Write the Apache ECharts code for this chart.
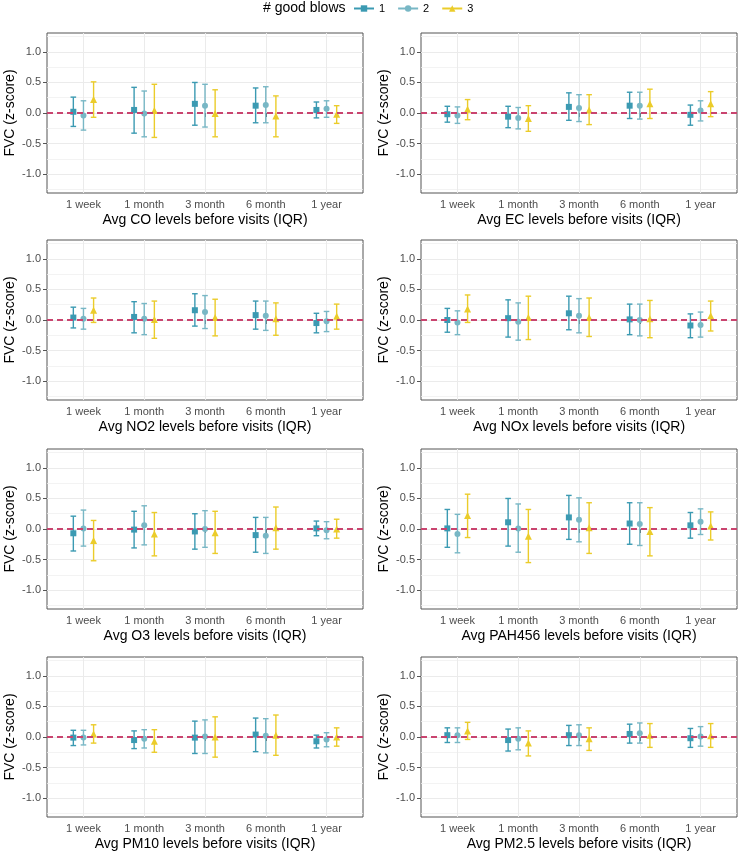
<!DOCTYPE html>
<html>
<head>
<meta charset="UTF-8">
<title>FVC by good blows</title>
<script src="https://cdn.jsdelivr.net/npm/echarts@6/dist/echarts.min.js"></script>
<style>
body { margin: 0; background: #fff; }
#main { width: 740px; height: 853px; }
</style>
</head>
<body>
<div id="main"></div>
<script>
var windows = ['1 week', '1 month', '3 month', '6 month', '1 year'];
var blows = ['1', '2', '3'];
var pollutants = ['CO', 'EC', 'NO2', 'NOx', 'O3', 'PAH456', 'PM10', 'PM2.5'];
var yTicks = [-1, -0.5, 0, 0.5, 1];
var yMinor = [-1.25, -0.75, -0.25, 0.25, 0.75, 1.25];
var dodge = [-1 / 6, 0, 1 / 6];

// [estimate, lower, upper] for each window; one row per number of good blows
var CO = [
  [[0.02, -0.22, 0.26], [0.05, -0.33, 0.42], [0.15, -0.20, 0.50], [0.12, -0.16, 0.41], [0.05, -0.08, 0.18]],
  [[-0.04, -0.28, 0.20], [-0.01, -0.39, 0.36], [0.12, -0.23, 0.47], [0.13, -0.16, 0.43], [0.07, -0.07, 0.20]],
  [[0.22, -0.07, 0.51], [0.04, -0.40, 0.47], [-0.01, -0.39, 0.38], [-0.05, -0.39, 0.28], [-0.02, -0.17, 0.12]]
];
var EC = [
  [[-0.02, -0.15, 0.11], [-0.06, -0.24, 0.11], [0.10, -0.12, 0.33], [0.12, -0.09, 0.34], [-0.03, -0.20, 0.13]],
  [[-0.04, -0.17, 0.10], [-0.08, -0.26, 0.09], [0.08, -0.14, 0.30], [0.12, -0.10, 0.34], [0.04, -0.13, 0.20]],
  [[0.06, -0.11, 0.22], [-0.09, -0.30, 0.12], [0.05, -0.19, 0.30], [0.15, -0.09, 0.39], [0.15, -0.06, 0.35]]
];
var NO2 = [
  [[0.04, -0.13, 0.21], [0.05, -0.21, 0.30], [0.16, -0.10, 0.43], [0.08, -0.15, 0.31], [-0.05, -0.21, 0.11]],
  [[0.02, -0.15, 0.19], [0.02, -0.24, 0.27], [0.13, -0.14, 0.40], [0.07, -0.17, 0.31], [-0.02, -0.19, 0.14]],
  [[0.16, -0.04, 0.36], [0.01, -0.30, 0.31], [0.04, -0.26, 0.34], [0.02, -0.25, 0.28], [0.06, -0.15, 0.26]]
];
var NOx = [
  [[0.00, -0.20, 0.19], [0.03, -0.28, 0.33], [0.11, -0.16, 0.39], [0.01, -0.24, 0.26], [-0.09, -0.29, 0.10]],
  [[-0.04, -0.24, 0.15], [-0.03, -0.33, 0.28], [0.07, -0.21, 0.35], [0.00, -0.26, 0.26], [-0.08, -0.28, 0.13]],
  [[0.18, -0.04, 0.41], [0.04, -0.32, 0.39], [0.04, -0.27, 0.36], [0.02, -0.29, 0.32], [0.07, -0.18, 0.31]]
];
var O3 = [
  [[-0.07, -0.36, 0.21], [-0.01, -0.31, 0.29], [-0.04, -0.33, 0.25], [-0.10, -0.38, 0.19], [0.01, -0.11, 0.13]],
  [[0.01, -0.28, 0.31], [0.06, -0.26, 0.38], [0.00, -0.30, 0.30], [-0.11, -0.40, 0.19], [-0.02, -0.16, 0.12]],
  [[-0.19, -0.52, 0.14], [-0.08, -0.44, 0.27], [-0.06, -0.40, 0.29], [0.02, -0.33, 0.36], [0.00, -0.15, 0.16]]
];
var PAH456 = [
  [[0.01, -0.30, 0.32], [0.11, -0.28, 0.50], [0.19, -0.17, 0.55], [0.09, -0.25, 0.43], [0.06, -0.15, 0.27]],
  [[-0.08, -0.39, 0.24], [0.01, -0.38, 0.41], [0.15, -0.21, 0.51], [0.08, -0.27, 0.43], [0.12, -0.09, 0.33]],
  [[0.22, -0.14, 0.57], [-0.12, -0.55, 0.32], [0.02, -0.40, 0.43], [-0.04, -0.44, 0.35], [0.05, -0.18, 0.28]]
];
var PM10 = [
  [[-0.01, -0.14, 0.11], [-0.05, -0.19, 0.10], [-0.01, -0.27, 0.26], [0.04, -0.24, 0.31], [-0.07, -0.18, 0.03]],
  [[-0.01, -0.13, 0.11], [-0.03, -0.18, 0.12], [0.01, -0.27, 0.28], [0.02, -0.26, 0.30], [-0.04, -0.16, 0.07]],
  [[0.05, -0.10, 0.20], [-0.07, -0.25, 0.12], [0.00, -0.33, 0.33], [0.03, -0.30, 0.36], [0.00, -0.15, 0.15]]
];
var PM25 = [
  [[0.03, -0.09, 0.15], [-0.05, -0.23, 0.13], [0.03, -0.14, 0.19], [0.05, -0.10, 0.21], [-0.02, -0.17, 0.14]],
  [[0.03, -0.09, 0.15], [-0.03, -0.21, 0.15], [0.03, -0.14, 0.20], [0.06, -0.10, 0.23], [0.01, -0.15, 0.17]],
  [[0.10, -0.04, 0.24], [-0.10, -0.31, 0.10], [-0.03, -0.22, 0.15], [0.03, -0.17, 0.22], [0.02, -0.17, 0.22]]
];
var panels = [CO, EC, NO2, NOx, O3, PAH456, PM10, PM25];

var colors = ['#3B9AB2', '#78B7C5', '#EBCC2A'];
var symbols = ['rect', 'circle', 'triangle'];
var symbolSizes = [6, 6, 7];
var font = 'Liberation Sans, Arial, Helvetica, sans-serif';

var chart = echarts.init(document.getElementById('main'));

function renderBar(params, api) {
  var top = api.coord([api.value(0), api.value(2)]);
  var bot = api.coord([api.value(0), api.value(1)]);
  var cap = 2.8;
  var style = { stroke: api.visual('color'), lineWidth: 1.4 };
  return {
    type: 'group',
    children: [
      { type: 'line', shape: { x1: top[0], y1: top[1], x2: bot[0], y2: bot[1] }, style: style },
      { type: 'line', shape: { x1: top[0] - cap, y1: top[1], x2: top[0] + cap, y2: top[1] }, style: style },
      { type: 'line', shape: { x1: bot[0] - cap, y1: bot[1], x2: bot[0] + cap, y2: bot[1] }, style: style }
    ]
  };
}

var grids = [], xAxes = [], yAxes = [], series = [];

// legend-only series (line + marker icons)
for (var b = 0; b < 3; b++) {
  series.push({
    type: 'line', name: blows[b], data: [], xAxisIndex: 0, yAxisIndex: 0,
    symbol: symbols[b], symbolSize: symbolSizes[b],
    itemStyle: { color: colors[b] }, lineStyle: { color: colors[b], width: 1.5 }
  });
}

for (var i = 0; i < panels.length; i++) {
  var col = i % 2, row = Math.floor(i / 2);
  grids.push({
    left: [47, 421][col], top: [33, 240, 449, 657][row], width: 316, height: 160,
    show: true, borderColor: '#555', borderWidth: 1, backgroundColor: '#fff'
  });
  xAxes.push({
    type: 'value', gridIndex: i, min: 0.4, max: 5.6,
    axisLine: { show: false },
    axisTick: { customValues: [1, 2, 3, 4, 5], length: 4, lineStyle: { color: '#555' } },
    axisLabel: {
      customValues: [1, 2, 3, 4, 5], margin: 6, fontSize: 11, color: '#4d4d4d', fontFamily: font,
      formatter: function (v) { return windows[Math.round(v) - 1]; }
    },
    splitLine: { show: true, lineStyle: { color: '#ebebeb', width: 1 } },
    name: 'Avg ' + pollutants[i] + ' levels before visits (IQR)',
    nameLocation: 'middle', nameGap: 20,
    nameTextStyle: { fontSize: 14, color: '#000', fontFamily: font }
  });
  yAxes.push({
    type: 'value', gridIndex: i, min: -1.31, max: 1.31,
    axisLine: { show: false },
    axisTick: { customValues: yTicks, length: 4, lineStyle: { color: '#555' } },
    axisLabel: {
      customValues: yTicks, margin: 6, fontSize: 11, color: '#4d4d4d', fontFamily: font,
      formatter: function (v) { return v.toFixed(1); }
    },
    splitLine: { show: true, lineStyle: { color: '#ebebeb', width: 1 } },
    name: 'FVC (z-score)', nameLocation: 'middle', nameGap: 30,
    nameTextStyle: { fontSize: 14, color: '#000', fontFamily: font }
  });
  yAxes.push({
    type: 'value', gridIndex: i, min: -1.31, max: 1.31, position: 'left',
    axisLine: { show: false },
    axisTick: { show: false, customValues: yMinor },
    axisLabel: { show: false },
    splitLine: { show: true, lineStyle: { color: '#f0f0f0', width: 0.8 } }
  });

  var p = panels[i];
  for (var b = 0; b < 3; b++) {
    series.push({
      type: 'custom', name: blows[b], xAxisIndex: i, yAxisIndex: i * 2,
      renderItem: renderBar, itemStyle: { color: colors[b] },
      encode: { x: 0, y: [1, 2] },
      data: p[b].map(function (d, w) { return [w + 1 + dodge[b], d[1], d[2]]; })
    });
  }
  series.push({
    type: 'scatter', xAxisIndex: i, yAxisIndex: i * 2, data: [], silent: true,
    markLine: {
      silent: true, symbol: 'none', label: { show: false },
      lineStyle: { color: '#c9446f', type: [6, 4], width: 1.8 },
      data: [{ yAxis: 0 }]
    }
  });
  for (var b = 0; b < 3; b++) {
    series.push({
      type: 'scatter', name: blows[b], xAxisIndex: i, yAxisIndex: i * 2,
      symbol: symbols[b], symbolSize: symbolSizes[b],
      itemStyle: { color: colors[b], opacity: 1 },
      data: p[b].map(function (d, w) { return [w + 1 + dodge[b], d[0]]; })
    });
  }
}

chart.setOption({
  animation: false,
  textStyle: { fontFamily: font },
  title: {
    text: '# good blows', left: 263, top: 1, padding: 0,
    textStyle: { fontSize: 14, fontWeight: 'normal', color: '#000', fontFamily: font }
  },
  legend: {
    data: blows, left: 353, top: 3, padding: 0, itemWidth: 20, itemHeight: 8, itemGap: 12,
    selectedMode: false, textStyle: { fontSize: 11, color: '#000', fontFamily: font }
  },
  grid: grids,
  xAxis: xAxes,
  yAxis: yAxes,
  series: series
});
</script>
</body>
</html>
